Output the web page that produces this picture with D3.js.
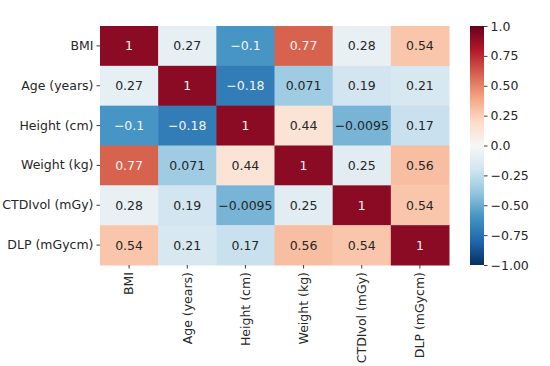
<!DOCTYPE html>
<html>
<head>
<meta charset="utf-8">
<script src="https://cdn.jsdelivr.net/npm/d3@7"></script>
<style>
  body { margin: 0; background: #fff; }
  text { font-family: "DejaVu Sans", sans-serif; }
</style>
</head>
<body>
<script>
// variables, same order on both axes
let variables = ["BMI", "Age (years)", "Height (cm)", "Weight (kg)", "CTDIvol (mGy)", "DLP (mGycm)"];

// correlation matrix, one array per row
let rowBMI    = [1, 0.27, -0.1, 0.77, 0.28, 0.54];
let rowAge    = [0.27, 1, -0.18, 0.071, 0.19, 0.21];
let rowHeight = [-0.1, -0.18, 1, 0.44, -0.0095, 0.17];
let rowWeight = [0.77, 0.071, 0.44, 1, 0.25, 0.56];
let rowCTDI   = [0.28, 0.19, -0.0095, 0.25, 1, 0.54];
let rowDLP    = [0.54, 0.21, 0.17, 0.56, 0.54, 1];

let cbTickValues = [1, 0.75, 0.5, 0.25, 0, -0.25, -0.5, -0.75, -1];
let cbTickLabels = ["1.0", "0.75", "0.50", "0.25", "0.0", "\u22120.25", "\u22120.50", "\u22120.75", "\u22121.00"];


let canvasW = 550;
let canvasH = 366;

let hm = { left: 100, right: 449, top: 26, bottom: 265 };
let cb = { left: 470, right: 484 };

let rows = [rowBMI, rowAge, rowHeight, rowWeight, rowCTDI, rowDLP];
let cells = [];
rows.forEach((r, i) => r.forEach((v, j) => cells.push({ row: variables[i], col: variables[j], value: v })));

let svg = d3.select("body").append("svg")
  .attr("width", canvasW)
  .attr("height", canvasH);

let x = d3.scaleBand().domain(variables).range([hm.left, hm.right]);
let y = d3.scaleBand().domain(variables).range([hm.top, hm.bottom]);

// matplotlib RdBu_r: ColorBrewer 11 colours, linear segments
let rdbu = d3.schemeRdBu[11].slice().reverse();
function paletteScale(lo, hi) {
  return d3.scaleLinear()
    .domain(d3.range(11).map(k => lo + (hi - lo) * k / 10))
    .range(rdbu)
    .clamp(true);
}
// the cells in the picture are shaded on a shifted range
let cellColor = paletteScale(-0.40, 1.07);
let barColor = paletteScale(-1, 1);

function luminance(c) {
  let rgb = d3.rgb(c);
  let lin = [rgb.r, rgb.g, rgb.b].map(u => {
    u = u / 255;
    return u <= 0.03928 ? u / 12.92 : Math.pow((u + 0.055) / 1.055, 2.4);
  });
  return 0.2126 * lin[0] + 0.7152 * lin[1] + 0.0722 * lin[2];
}

let fmt = d3.format(".2~g");

svg.selectAll("rect.cell")
  .data(cells)
  .join("rect")
  .attr("class", "cell")
  .attr("x", d => x(d.col))
  .attr("y", d => y(d.row))
  .attr("width", x.bandwidth() + 0.5)
  .attr("height", y.bandwidth() + 0.5)
  .attr("fill", d => cellColor(d.value));

svg.selectAll("text.annot")
  .data(cells)
  .join("text")
  .attr("class", "annot")
  .attr("x", d => x(d.col) + x.bandwidth() / 2)
  .attr("y", d => y(d.row) + y.bandwidth() / 2)
  .attr("text-anchor", "middle")
  .attr("dominant-baseline", "central")
  .attr("font-size", "12.5px")
  .attr("fill", d => luminance(cellColor(d.value)) < 0.408 ? "#f4f4f4" : "#262626")
  .text(d => fmt(d.value));

// axes
let yAxis = svg.append("g")
  .attr("transform", `translate(${hm.left},0)`)
  .call(d3.axisLeft(y).tickSize(3.5).tickPadding(3));

let xAxis = svg.append("g")
  .attr("transform", `translate(0,${hm.bottom})`)
  .call(d3.axisBottom(x).tickSize(3.5).tickPadding(3));

xAxis.selectAll("text")
  .attr("transform", "rotate(-90)")
  .attr("text-anchor", "end")
  .attr("dy", "0.35em")
  .attr("x", -7)
  .attr("y", 0);

[xAxis, yAxis].forEach(g => {
  g.select(".domain").remove();
  g.selectAll("line").attr("stroke", "#262626").attr("stroke-width", 0.9);
  g.selectAll("text").attr("font-size", "12.5px").attr("fill", "#262626")
    .style("font-family", "'DejaVu Sans', sans-serif");
});

// colour bar
let cbY = d3.scaleLinear().domain([-1, 1]).range([hm.bottom, hm.top]);

let defs = svg.append("defs");
let grad = defs.append("linearGradient")
  .attr("id", "cbgrad")
  .attr("x1", 0).attr("y1", 1).attr("x2", 0).attr("y2", 0);
grad.selectAll("stop")
  .data(d3.range(0, 1.0001, 0.05))
  .join("stop")
  .attr("offset", t => t)
  .attr("stop-color", t => barColor(-1 + 2 * t));

svg.append("rect")
  .attr("x", cb.left)
  .attr("y", hm.top)
  .attr("width", cb.right - cb.left)
  .attr("height", hm.bottom - hm.top)
  .attr("fill", "url(#cbgrad)");

let cbAxis = svg.append("g")
  .attr("transform", `translate(${cb.right},0)`)
  .call(d3.axisRight(cbY)
    .tickValues(cbTickValues)
    .tickFormat((d, i) => cbTickLabels[i])
    .tickSize(3.5)
    .tickPadding(3));

cbAxis.select(".domain").remove();
cbAxis.selectAll("line").attr("stroke", "#262626").attr("stroke-width", 0.9);
cbAxis.selectAll("text").attr("font-size", "12.5px").attr("fill", "#262626")
  .style("font-family", "'DejaVu Sans', sans-serif");
</script>
</body>
</html>
